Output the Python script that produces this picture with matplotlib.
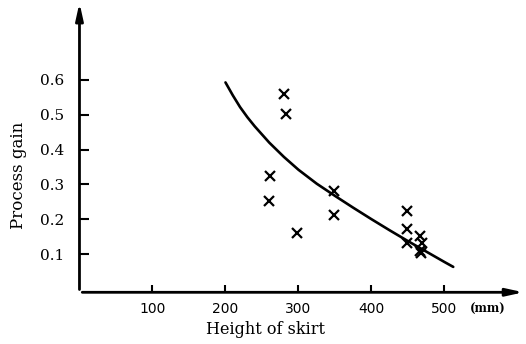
import matplotlib.pyplot as plt
import numpy as np

# measured points (height of skirt in mm, process gain)
skirt = [280, 283, 261, 259, 298, 349, 348, 449, 448, 449, 466, 469, 466, 468]
gain = [0.559, 0.501, 0.324, 0.252, 0.161, 0.282, 0.211, 0.224, 0.171, 0.133, 0.153, 0.131, 0.110, 0.102]

# fitted curve
curve_x = [200, 210, 220, 230, 240, 260, 280, 300, 325, 350, 375, 400, 425, 450, 475, 500, 512]
curve_y = [0.593, 0.556, 0.522, 0.493, 0.467, 0.420, 0.379, 0.342, 0.302, 0.267, 0.233, 0.200, 0.168, 0.137, 0.107, 0.077, 0.063]

xticks = [100, 200, 300, 400, 500]
yticks = [0.1, 0.2, 0.3, 0.4, 0.5, 0.6]

plt.rcParams['font.family'] = ['DejaVu Serif']

fig = plt.figure(figsize=(5.26, 3.44), dpi=100)
ax = fig.add_axes([0.1511, 0.1503, 0.8466, 0.8398])
ax.set_xlim(0, 610)
ax.set_ylim(-0.01, 0.82)

for s in ax.spines.values():
    s.set_visible(False)

# axes drawn as arrows
arrow = dict(arrowstyle='-|>,head_length=1.0,head_width=0.22', lw=2, color='black')
ax.annotate('', xy=(0, 0.83), xytext=(0, -0.01), arrowprops=arrow, annotation_clip=False)
ax.annotate('', xy=(612, -0.01), xytext=(0, -0.01), arrowprops=arrow, annotation_clip=False)

ax.plot(curve_x, curve_y, color='black', lw=1.9, solid_capstyle='round', solid_joinstyle='round')
ax.plot(skirt, gain, 'x', color='black', ms=7, mew=1.6)

ax.set_xticks(xticks)
ax.set_xticklabels([str(v) for v in xticks], fontfamily='DejaVu Sans', fontsize=10)
ax.set_yticks(yticks)
ax.set_yticklabels(['%.1f' % v for v in yticks], fontsize=11)
ax.tick_params(axis='x', direction='in', length=5, width=1.5, pad=7)
ax.tick_params(axis='y', direction='in', length=7, width=1.5, pad=11)

ax.text(535, -0.06, '(mm)', fontsize=8.5, fontweight='bold', va='center', ha='left')
ax.set_xlabel('Height of skirt', fontsize=11.5)
ax.set_ylabel('Process gain', fontsize=12)
ax.xaxis.set_label_coords(0.417, -0.1)
ax.yaxis.set_label_coords(-0.118, 0.405)

fig.savefig('out.png', dpi=100)
